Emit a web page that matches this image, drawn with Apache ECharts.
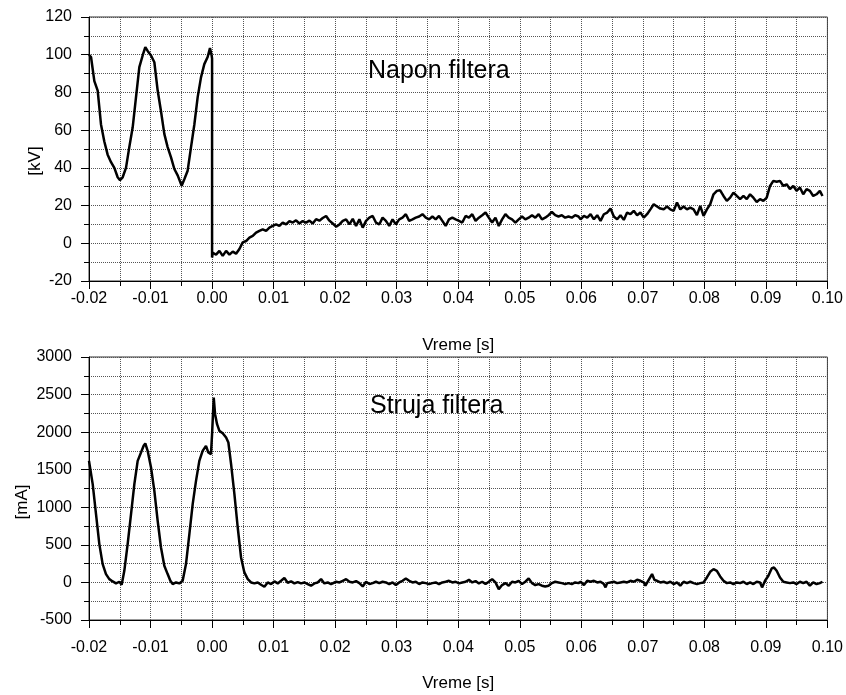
<!DOCTYPE html>
<html><head><meta charset="utf-8">
<script src="https://cdn.jsdelivr.net/npm/echarts@6/dist/echarts.min.js"></script>
<style>html,body{margin:0;padding:0;background:#fff}#c{width:846px;height:695px}</style>
</head><body><div id="c"></div>
<script>
// ---------- Napon filtera [kV] ----------
const voltageTimeEarly = [-0.02000,-0.01967,-0.01913,-0.01859,-0.01805,-0.01751,-0.01697,-0.01642,-0.01588,-0.01534,-0.01496,-0.01453,-0.01399,-0.01345,-0.01290,-0.01236,-0.01182,-0.01128,-0.01085,-0.01047,-0.00992,-0.00938,-0.00884,-0.00830,-0.00776,-0.00722,-0.00667,-0.00613,-0.00559,-0.00494,-0.00451,-0.00397,-0.00342,-0.00288,-0.00234,-0.00180,-0.00126,-0.00072,-0.00034,-0.00007,0.00000,0.00000,
 0.00011,0.00065,0.00119,0.00173,0.00228,0.00282,0.00336,0.00390,0.00444,0.00498,0.00553,0.00607,0.00661,0.00715,0.00769,0.00823,0.00878,0.00932,0.00986,0.01040,0.01094,0.01148,0.01203,0.01257,0.01311,0.01365,0.01419,0.01473,0.01528,0.01582,0.01636,0.01690,0.01744,0.01798,0.01853,0.01907,0.01961];
const voltageKVEarly = [100,98.8,86,81,63,54,47,43,40,35,33.5,35,40,51,61.5,77.5,93.4,99.6,104,102,99.6,96,81,70,58,51,45.6,39.4,36,30.5,34,38.5,51,63,77.5,88,95,98.8,103.5,99.6,98,-7.6,
 -5,-6,-4,-6.7,-4,-6,-4.4,-5.5,-3,0.5,1.2,3,3.9,5.7,6.6,7.4,6.6,8.3,9.2,10,9.2,11,10,11.8,11,12.2,10.5,11.8,11,12,10.5,12.8,12,13.4,14.5,12,10.5];

const timeMid = [0.02016,0.02070,0.02124,0.02178,0.02232,0.02286,0.02340,0.02394,0.02448,0.02502,
 0.02556,0.02610,0.02663,0.02717,0.02771,0.02825,0.02879,0.02933,0.02987,0.03041,
 0.03095,0.03149,0.03203,0.03257,0.03311,0.03365,0.03419,0.03473,0.03527,0.03580,
 0.03634,0.03688,0.03742,0.03796,0.03850,0.03904,0.03958,0.04012,0.04066,0.04120,
 0.04174,0.04228,0.04282,0.04336,0.04390,0.04444,0.04497,0.04551,0.04605,0.04659,
 0.04713,0.04767,0.04821,0.04875,0.04929,0.04983,0.05037,0.05091,0.05145,0.05199,
 0.05253,0.05307,0.05361,0.05414,0.05468,0.05522,0.05576,0.05630,0.05684,0.05738,
 0.05792,0.05846,0.05900,0.05954];
const voltageKVMid = [8.8,10,11.9,12.7,10,13,9.2,12.7,8.3,11.9,
 13.6,14.5,11,10,13.6,11.9,9.2,12.7,10,12.7,
 13.6,15.4,11.9,12.7,13.6,14.2,15.4,13.6,12.7,14.2,
 12.7,14.5,11.9,9.2,12.7,13.6,12.7,11.9,11,14.5,
 13.6,15.4,11.9,13.6,14.9,16.3,13.6,11,13.6,9.2,
 12.7,15.4,13.6,12.7,11,12.7,14.2,12.7,13.6,14.9,
 13.6,15.4,12.7,13.6,14.9,16.6,14.9,14.2,14.9,13.6,
 14.2,13.6,14.9,14.2];

const voltageTimeLate = [0.05989,0.06043,0.06097,0.06151,0.06205,0.06259,0.06313,0.06367,0.06421,0.06475,
 0.06529,0.06583,0.06637,0.06691,0.06745,0.06799,0.06853,0.06907,0.06961,0.07015,
 0.07069,0.07123,0.07177,0.07231,0.07285,0.07339,0.07393,0.07447,0.07501,0.07555,
 0.07609,0.07663,0.07717,0.07771,0.07825,0.07879,0.07933,0.07987,0.08041,0.08095,
 0.08149,0.08203,0.08257,0.08311,0.08365,0.08419,0.08473,0.08527,0.08581,0.08635,
 0.08689,0.08743,0.08797,0.08851,0.08905,0.08959,0.09013,0.09067,0.09121,0.09175,
 0.09229,0.09283,0.09337,0.09391,0.09445,0.09499,0.09553,0.09607,0.09661,0.09715,
 0.09769,0.09823,0.09877,0.09920];
const voltageKVLate = [12.7,14.5,13.6,15.4,12.7,14.9,11.9,15.4,16.3,18.4,
 14.2,12.7,14.9,12.4,16.3,15.4,17.2,14.9,16.3,13.6,
 15.4,18,20.7,19.5,18.4,18,19.5,18,17.2,21.6,
 18,19.5,18,18.9,18,14.9,19.8,14.5,18,20.7,
 26,27.8,28.1,25.1,22.5,24.2,26.9,25.1,23.4,25.1,
 23.4,26,24.2,21.9,23.4,22.5,24.2,30.4,33.1,32.6,
 33.1,30.4,31.3,28.7,30.4,27.8,29.6,26,28.7,27.8,
 25.1,26,27.8,25.1];

// ---------- Struja filtera [mA] ----------
const currentTimeEarly = [-0.02000,-0.01940,-0.01886,-0.01832,-0.01778,-0.01724,-0.01670,-0.01615,-0.01561,-0.01507,
 -0.01469,-0.01426,-0.01372,-0.01317,-0.01263,-0.01209,-0.01155,-0.01112,-0.01085,-0.01047,
 -0.00992,-0.00938,-0.00884,-0.00830,-0.00776,-0.00722,-0.00678,-0.00640,-0.00586,-0.00532,
 -0.00478,-0.00424,-0.00369,-0.00315,-0.00261,-0.00207,-0.00153,-0.00099,-0.00061,-0.00018,
 0.00000,0.00027,0.00049,0.00081,0.00119,0.00173,0.00228,0.00265,0.00309,0.00363,
 0.00417,0.00471,0.00525,0.00580,0.00634,0.00688,0.00742,0.00796,0.00850,0.00904,
 0.00959,0.01013,0.01067,0.01121,0.01175,0.01229,0.01284,0.01338,0.01392,0.01446,
 0.01500,0.01554,0.01608,0.01663,0.01717,0.01771,0.01825,0.01879,0.01933];
const currentMAEarly = [1618,1308,909,510,244,111,44,13,-13,9,
 -31,155,510,909,1308,1618,1729,1818,1849,1751,
 1529,1219,820,465,222,111,22,-22,0,-13,
 22,244,643,1042,1352,1618,1751,1818,1729,1707,
 1973,2460,2239,2106,2017,1986,1928,1862,1574,1175,
 731,332,133,44,0,-13,0,-31,-58,0,
 -22,13,-13,22,58,-4,13,-13,4,-13,
 0,-22,-44,-13,0,44,-13,0,-22];
const currentMAMid = [9,0,22,44,9,0,18,-9,-53,9,
 -22,-9,9,-9,9,0,-22,0,-35,0,
 22,53,22,0,9,-22,0,-9,-22,-9,
 0,-22,0,9,22,0,9,-13,0,9,
 35,0,18,-13,9,-22,9,44,0,-89,
 -35,-9,-44,9,0,22,-22,9,53,-9,
 -35,-22,-44,-53,-44,-9,9,0,-9,-22,
 -9,-22,0,-9];
const currentTimeLate = [0.05989,0.06043,0.06097,0.06151,0.06205,0.06259,0.06313,0.06367,0.06394,0.06421,
 0.06475,0.06529,0.06583,0.06637,0.06691,0.06745,0.06799,0.06853,0.06907,0.06961,
 0.07015,0.07042,0.07096,0.07150,0.07188,0.07231,0.07285,0.07339,0.07393,0.07447,
 0.07501,0.07555,0.07609,0.07663,0.07717,0.07771,0.07825,0.07879,0.07933,0.07987,
 0.08041,0.08095,0.08149,0.08203,0.08257,0.08311,0.08365,0.08419,0.08473,0.08527,
 0.08581,0.08635,0.08689,0.08743,0.08797,0.08851,0.08905,0.08938,0.08986,0.09040,
 0.09094,0.09132,0.09175,0.09229,0.09283,0.09337,0.09391,0.09445,0.09499,0.09553,
 0.09607,0.09661,0.09715,0.09769,0.09823,0.09877,0.09920];
const currentMALate = [9,-35,22,9,22,0,9,-22,-66,-9,
 0,9,-9,0,9,0,22,9,35,22,
 0,-44,35,111,35,22,0,9,-9,9,
 -22,0,-44,9,-9,9,-9,-22,-9,0,
 66,142,177,155,80,22,-9,0,-22,0,
 -9,9,-22,0,-22,9,0,-66,22,89,
 186,199,155,66,9,0,-9,0,-22,9,
 -9,9,-44,0,-22,-9,9];

// ---------- axes ----------
const xMin = -0.02, xMax = 0.10, xStep = 0.01;
const kvMin = -20, kvMax = 120, kvStep = 20;
const maMin = -500, maMax = 3000, maStep = 500;
const xTitle = 'Vreme [s]', kvTitle = '[kV]', maTitle = '[mA]';
const voltageLabel = 'Napon filtera', currentLabel = 'Struja filtera';

function zip(t, v) { return t.map((x, i) => [x, v[i]]); }
const voltageData = [].concat(zip(voltageTimeEarly, voltageKVEarly), zip(timeMid, voltageKVMid), zip(voltageTimeLate, voltageKVLate));
const currentData = [].concat(zip(currentTimeEarly, currentMAEarly), zip(timeMid, currentMAMid), zip(currentTimeLate, currentMALate));

const FONT = "'Liberation Sans', Arial, sans-serif";
const gridLine = { show: true, lineStyle: { type: 'dotted', color: '#555', width: 1 } };

function xAxis(gridIndex, labelMargin, nameGap) {
  return {
    type: 'value', gridIndex, min: xMin, max: xMax, interval: xStep,
    axisLine: { show: true, onZero: false, lineStyle: { color: '#000', width: 1 } },
    axisTick: { show: true, length: 8, lineStyle: { color: '#000' } },
    minorTick: { show: true, splitNumber: 2, length: 5, lineStyle: { color: '#000' } },
    splitLine: gridLine, minorSplitLine: gridLine,
    axisLabel: { color: '#000', fontSize: 16, fontFamily: FONT, margin: labelMargin,
      formatter: v => (Math.abs(v) < 1e-9 ? 0 : v).toFixed(2) },
    name: xTitle, nameLocation: 'middle', nameGap: nameGap, nameMoveOverlap: false,
    nameTextStyle: { color: '#000', fontSize: 17, fontFamily: FONT }
  };
}
function yAxis(gridIndex, min, max, step, title, gap, shift) {
  return {
    type: 'value', gridIndex, min, max, interval: step,
    axisLine: { show: true, onZero: false, lineStyle: { color: '#000', width: 1 } },
    axisTick: { show: true, length: 8, lineStyle: { color: '#000' } },
    minorTick: { show: true, splitNumber: 2, length: 5, lineStyle: { color: '#000' } },
    splitLine: gridLine, minorSplitLine: gridLine,
    axisLabel: { color: '#000', fontSize: 16, fontFamily: FONT, margin: 17, formatter: v => String(v) },
    name: title, nameLocation: 'middle', nameGap: gap, nameRotate: 90, nameMoveOverlap: false,
    nameTextStyle: { color: '#000', fontSize: 17, fontFamily: FONT, padding: [0, shift, 0, 0] }
  };
}

const chart = echarts.init(document.getElementById('c'), null, { renderer: 'canvas' });
chart.setOption({
  backgroundColor: '#fff',
  animation: false,
  grid: [
    { left: 89, right: 17, top: 17, height: 264, show: true, borderColor: '#333', borderWidth: 1 },
    { left: 89, right: 17, top: 357, height: 263, show: true, borderColor: '#333', borderWidth: 1 }
  ],
  xAxis: [xAxis(0, 10, 56), xAxis(1, 20, 55)],
  yAxis: [yAxis(0, kvMin, kvMax, kvStep, kvTitle, 45, 24), yAxis(1, maMin, maMax, maStep, maTitle, 58, 27)],
  series: [
    { name: voltageLabel, type: 'line', xAxisIndex: 0, yAxisIndex: 0, data: voltageData, showSymbol: false,
      lineStyle: { color: '#000', width: 2.5 }, z: 5 },
    { name: currentLabel, type: 'line', xAxisIndex: 1, yAxisIndex: 1, data: currentData, showSymbol: false,
      lineStyle: { color: '#000', width: 2.5 }, z: 5 }
  ],
  graphic: [
    { type: 'text', left: 368, top: 59, z: 10, style: { text: voltageLabel, fill: '#000', font: "25px 'Liberation Sans', Arial, sans-serif" } },
    { type: 'text', left: 370, top: 394, z: 10, style: { text: currentLabel, fill: '#000', font: "25px 'Liberation Sans', Arial, sans-serif" } }
  ]
});
</script></body></html>
